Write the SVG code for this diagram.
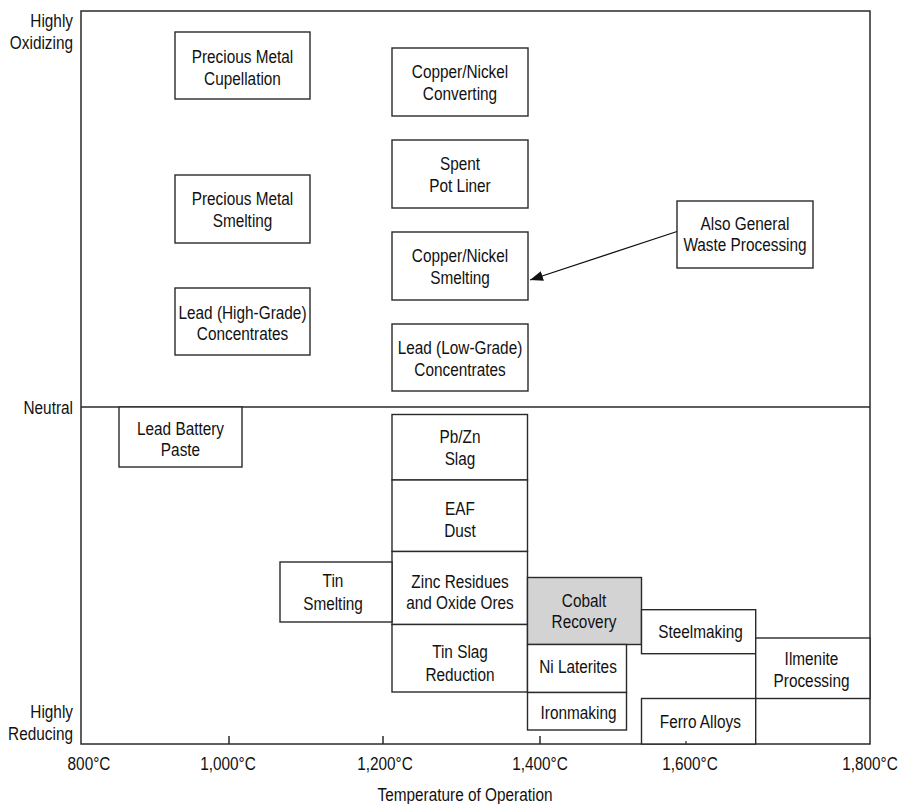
<svg xmlns="http://www.w3.org/2000/svg" width="900" height="804" viewBox="0 0 900 804">
<style>
.b{fill:#fff;stroke:#2a2a2a;stroke-width:1.4}
.g{fill:#d3d3d3;stroke:#2a2a2a;stroke-width:1.4}
.ax{fill:none;stroke:#2a2a2a;stroke-width:1.5}
text{font-family:"Liberation Sans",Arial,sans-serif;font-size:18.5px;fill:#111}
.c{text-anchor:middle}
.e{text-anchor:end}
</style>
<defs>
<marker id="ah" markerUnits="userSpaceOnUse" markerWidth="14" markerHeight="11" refX="13" refY="5" orient="auto">
<path d="M0,0 L13,5 L0,10 z" fill="#111"/>
</marker>
</defs>
<rect width="900" height="804" fill="#fff"/>
<g id="axes">
<rect class="ax" x="81" y="11" width="789" height="733"/>
<line class="ax" x1="81" y1="407" x2="870" y2="407"/>
<line class="ax" x1="229" y1="736" x2="229" y2="744"/>
<line class="ax" x1="383" y1="736" x2="383" y2="744"/>
<line class="ax" x1="540" y1="736" x2="540" y2="744"/>
<text class="e" transform="translate(73,26.7) scale(0.83,1)"><tspan x="0">Highly</tspan><tspan x="0" dy="22.6">Oxidizing</tspan></text>
<text class="e" transform="translate(73,414) scale(0.83,1)">Neutral</text>
<text class="e" transform="translate(73,718.3) scale(0.83,1)"><tspan x="0">Highly</tspan><tspan x="0" dy="21.7">Reducing</tspan></text>
<text class="c" transform="translate(89,770) scale(0.83,1)">800°C</text>
<text class="c" transform="translate(228,770) scale(0.83,1)">1,000°C</text>
<text class="c" transform="translate(385,770) scale(0.83,1)">1,200°C</text>
<text class="c" transform="translate(540,770) scale(0.83,1)">1,400°C</text>
<text class="c" transform="translate(690,770) scale(0.83,1)">1,600°C</text>
<text class="c" transform="translate(870,770) scale(0.83,1)">1,800°C</text>
<text class="c" transform="translate(465,801) scale(0.83,1)">Temperature of Operation</text>
</g>
<g id="n-cupellation"><rect class="b" x="175" y="32" width="135" height="67"/><text class="c" transform="translate(242.5,63) scale(0.83,1)"><tspan x="0">Precious Metal</tspan><tspan x="0" dy="22">Cupellation</tspan></text></g>
<g id="n-pm-smelting"><rect class="b" x="175" y="175" width="135" height="68"/><text class="c" transform="translate(242.5,205) scale(0.83,1)"><tspan x="0">Precious Metal</tspan><tspan x="0" dy="22">Smelting</tspan></text></g>
<g id="n-lead-high"><rect class="b" x="175" y="288" width="135" height="67"/><text class="c" transform="translate(242.5,318.5) scale(0.83,1)"><tspan x="0">Lead (High-Grade)</tspan><tspan x="0" dy="22">Concentrates</tspan></text></g>
<g id="n-cn-converting"><rect class="b" x="392" y="48" width="136" height="68"/><text class="c" transform="translate(460,78) scale(0.83,1)"><tspan x="0">Copper/Nickel</tspan><tspan x="0" dy="22">Converting</tspan></text></g>
<g id="n-spl"><rect class="b" x="392" y="140" width="136" height="68"/><text class="c" transform="translate(460,170) scale(0.83,1)"><tspan x="0">Spent</tspan><tspan x="0" dy="22.5">Pot Liner</tspan></text></g>
<g id="n-cn-smelting"><rect class="b" x="392" y="232" width="136" height="68"/><text class="c" transform="translate(460,262) scale(0.83,1)"><tspan x="0">Copper/Nickel</tspan><tspan x="0" dy="22.5">Smelting</tspan></text></g>
<g id="n-lead-low"><rect class="b" x="392" y="324" width="136" height="67"/><text class="c" transform="translate(460,354) scale(0.83,1)"><tspan x="0">Lead (Low-Grade)</tspan><tspan x="0" dy="22">Concentrates</tspan></text></g>
<g id="n-waste"><rect class="b" x="677" y="201" width="136" height="67"/><text class="c" transform="translate(745,229.5) scale(0.83,1)"><tspan x="0">Also General</tspan><tspan x="0" dy="22">Waste Processing</tspan></text></g>
<g id="n-battery"><rect class="b" x="119" y="407" width="123" height="60"/><text class="c" transform="translate(180.5,434.5) scale(0.83,1)"><tspan x="0">Lead Battery</tspan><tspan x="0" dy="22">Paste</tspan></text></g>
<g id="n-pbzn"><rect class="b" x="392" y="414.5" width="135.5" height="65.5"/><text class="c" transform="translate(460,442.7) scale(0.83,1)"><tspan x="0">Pb/Zn</tspan><tspan x="0" dy="22.3">Slag</tspan></text></g>
<g id="n-eaf"><rect class="b" x="392" y="480" width="135.5" height="71.5"/><text class="c" transform="translate(460,515) scale(0.83,1)"><tspan x="0">EAF</tspan><tspan x="0" dy="22.3">Dust</tspan></text></g>
<g id="n-zinc"><rect class="b" x="392" y="551.5" width="135.5" height="73"/><text class="c" transform="translate(460,587.7) scale(0.83,1)"><tspan x="0">Zinc Residues</tspan><tspan x="0" dy="21.6">and Oxide Ores</tspan></text></g>
<g id="n-tinslag"><rect class="b" x="392" y="624.5" width="135.5" height="67.5"/><text class="c" transform="translate(460,658.3) scale(0.83,1)"><tspan x="0">Tin Slag</tspan><tspan x="0" dy="22.7">Reduction</tspan></text></g>
<g id="n-tinsmelting"><rect class="b" x="280" y="562" width="112" height="60"/><text class="c" transform="translate(333,587.3) scale(0.83,1)"><tspan x="0">Tin</tspan><tspan x="0" dy="22.7">Smelting</tspan></text></g>
<g id="n-cobalt"><rect class="g" x="527.5" y="577.5" width="114" height="67"/><text class="c" transform="translate(584,606.7) scale(0.83,1)"><tspan x="0">Cobalt</tspan><tspan x="0" dy="21.8">Recovery</tspan></text></g>
<g id="n-nilat"><rect class="b" x="527.5" y="644.5" width="99" height="48"/><text class="c" transform="translate(578,673.3) scale(0.83,1)">Ni Laterites</text></g>
<g id="n-iron"><rect class="b" x="527.5" y="692.5" width="99" height="37.5"/><text class="c" transform="translate(578.5,719) scale(0.83,1)">Ironmaking</text></g>
<g id="n-steel"><rect class="b" x="641.5" y="609.7" width="114.2" height="44"/><text class="c" transform="translate(700.5,637.5) scale(0.83,1)">Steelmaking</text></g>
<g id="n-ilmenite"><rect class="b" x="755.7" y="638" width="114.3" height="60.5"/><text class="c" transform="translate(811.5,665) scale(0.83,1)"><tspan x="0">Ilmenite</tspan><tspan x="0" dy="21.7">Processing</tspan></text></g>
<g id="n-ferro"><rect class="b" x="641.5" y="698.5" width="114.2" height="45.5"/><text class="c" transform="translate(700.3,727.7) scale(0.83,1)">Ferro Alloys</text></g>
<g id="connectors">
<line x1="677" y1="231.5" x2="530" y2="280" stroke="#111" stroke-width="1.3" marker-end="url(#ah)"/>
<line x1="686" y1="741" x2="686" y2="744" stroke="#2a2a2a" stroke-width="1.2"/>
</g>
</svg>
